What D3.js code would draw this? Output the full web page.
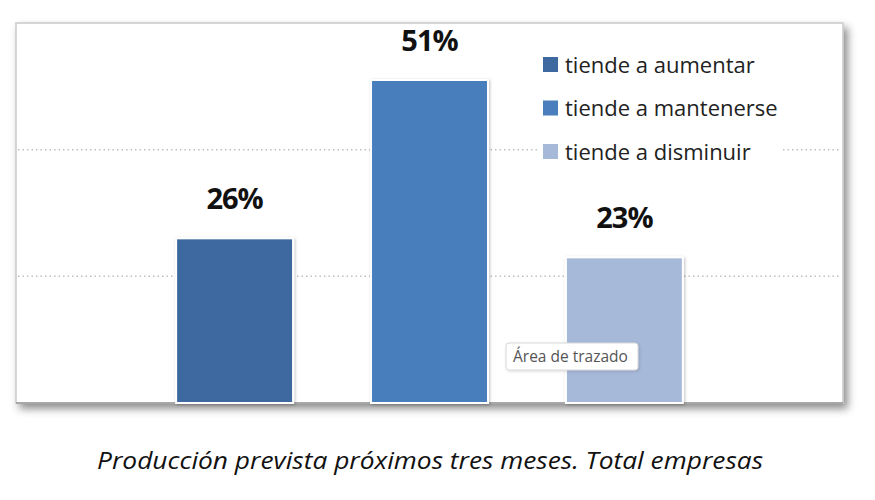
<!DOCTYPE html>
<html><head><meta charset="utf-8">
<script src="https://cdn.jsdelivr.net/npm/d3@7"></script>
<style>body{margin:0;background:#fff}svg{display:block}</style>
</head><body>
<script>
const seriesNames = ["tiende a aumentar", "tiende a mantenerse", "tiende a disminuir"];
const seriesValues = [26, 51, 23];
const seriesColors = ["#3d68a0", "#4a7ebc", "#a7b9d9"];
const gridTicks = [20, 40];
const category = ["Total empresas"];
const caption = "Producción prevista próximos tres meses. Total empresas";
const tooltipText = "Área de trazado";

const W = 875, H = 500;
const svg = d3.select("body").append("svg").attr("width", W).attr("height", H);
const defs = svg.append("defs");
const f = defs.append("filter").attr("id","frameShadow").attr("x","-5%").attr("y","-5%").attr("width","115%").attr("height","120%");
f.append("feDropShadow").attr("dx",4).attr("dy",5).attr("stdDeviation",4).attr("flood-color","#000").attr("flood-opacity",0.45);
const fb = defs.append("filter").attr("id","barShadow").attr("x","-10%").attr("y","-10%").attr("width","130%").attr("height","130%");
fb.append("feDropShadow").attr("dx",1).attr("dy",1).attr("stdDeviation",1.5).attr("flood-color","#000").attr("flood-opacity",0.25);
const ft = defs.append("filter").attr("id","tipShadow").attr("x","-10%").attr("y","-20%").attr("width","130%").attr("height","160%");
ft.append("feDropShadow").attr("dx",1).attr("dy",1).attr("stdDeviation",1.5).attr("flood-color","#000").attr("flood-opacity",0.15);

const plot = {left: 16, top: 23, right: 843, bottom: 403};

// frame
svg.append("rect").attr("x", plot.left).attr("y", plot.top)
  .attr("width", plot.right - plot.left).attr("height", plot.bottom - plot.top)
  .attr("fill", "#fff").attr("stroke", "#c9c9c9").attr("stroke-width", 1.5)
  .attr("filter", "url(#frameShadow)");

const y = d3.scaleLinear().domain([0, 60]).range([plot.bottom, plot.top]);
const x0 = d3.scaleBand().domain(category).range([plot.left, plot.right]).paddingInner(0).paddingOuter(0.316);
const x1 = d3.scaleBand().domain(seriesNames).range([0, x0.bandwidth()]).paddingInner(0.4).paddingOuter(0);

// gridlines
svg.append("g").selectAll("line").data(gridTicks).join("line")
  .attr("x1", plot.left + 2).attr("x2", plot.right - 2)
  .attr("y1", d => y(d)).attr("y2", d => y(d))
  .attr("stroke", "#bfbfbf").attr("stroke-width", 1.5).attr("stroke-dasharray", "1.5,3");

// baseline
svg.append("line").attr("x1", plot.left).attr("x2", plot.right)
  .attr("y1", plot.bottom).attr("y2", plot.bottom)
  .attr("stroke", "#9a9a9a").attr("stroke-width", 1.5);

// bars
const g = svg.append("g").attr("transform", `translate(${x0(category[0])},0)`);
g.selectAll("rect").data(seriesNames).join("rect")
  .attr("x", d => x1(d)).attr("width", x1.bandwidth())
  .attr("y", (d, i) => y(seriesValues[i]))
  .attr("height", (d, i) => y(0) - y(seriesValues[i]))
  .attr("fill", (d, i) => seriesColors[i])
  .attr("stroke", "#fff").attr("stroke-width", 2)
  .attr("filter", "url(#barShadow)");

g.selectAll("text").data(seriesNames).join("text")
  .attr("x", d => x1(d) + x1.bandwidth() / 2)
  .attr("y", (d, i) => y(seriesValues[i]) - 29)
  .attr("text-anchor", "middle")
  .attr("font-family", "'Open Sans', sans-serif").attr("font-weight", "bold")
  .attr("font-size", 29).attr("letter-spacing", -1).attr("fill", "#111")
  .text((d, i) => seriesValues[i] + "%");

// legend
const lg = svg.append("g").attr("transform", "translate(538,44)");
lg.append("rect").attr("x", 0).attr("y", 0).attr("width", 242).attr("height", 124).attr("fill", "#fff");
const items = lg.selectAll("g").data(seriesNames).join("g")
  .attr("transform", (d, i) => `translate(5,${i * 43.5})`);
items.append("rect").attr("x", 0).attr("y", 13).attr("width", 15).attr("height", 15)
  .attr("fill", (d, i) => seriesColors[i]);
items.append("text").attr("x", 22).attr("y", 28.5)
  .attr("font-family", "'Open Sans', sans-serif").attr("font-size", 22).attr("fill", "#222")
  .text(d => d);

// tooltip
const tg = svg.append("g").attr("transform", "translate(506,343)");
tg.append("rect").attr("width", 132).attr("height", 27).attr("rx", 3)
  .attr("fill", "#fff").attr("stroke", "#d8d8d8").attr("filter", "url(#tipShadow)");
tg.append("text").attr("x", 7).attr("y", 19)
  .attr("font-family", "'Open Sans', sans-serif").attr("font-size", 15.5).attr("fill", "#555")
  .text(tooltipText);

// caption
svg.append("text").attr("x", 430).attr("y", 469).attr("text-anchor", "middle")
  .attr("font-family", "'Open Sans', sans-serif").attr("font-style", "italic")
  .attr("font-size", 23).attr("fill", "#111")
  .attr("textLength", 666).attr("lengthAdjust", "spacingAndGlyphs")
  .text(caption);
</script>
</body></html>
